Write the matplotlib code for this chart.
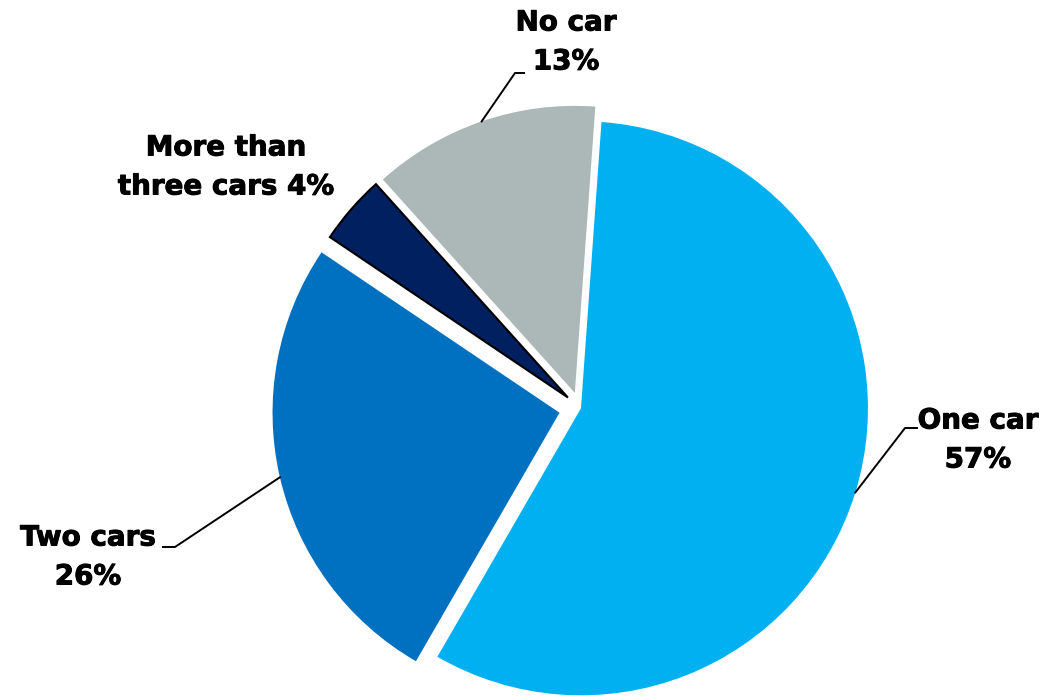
import numpy as np
import matplotlib.pyplot as plt
import matplotlib.patheffects as pe

# car ownership shares (%), clockwise from the top
labels = ['One car', 'Two cars', 'More than\nthree cars', 'No car']
shares = [57.2, 26.1, 3.9, 12.8]
colors = ['#00B0F0', '#0070C0', '#002060', '#ABB8B7']

W, H = 1047, 698
fig = plt.figure(figsize=(W / 100, H / 100), dpi=100)
ax = fig.add_axes([0, 0, 1, 1])

cx, cy, r = 580, H - 408, 287
offsets = [1, 21, 16, 16]  # explode distances in data (pixel) units
start = 85.9

wedges, _ = ax.pie(shares, colors=colors, startangle=start, counterclock=False,
                   center=(cx, cy), radius=r, explode=offsets,
                   wedgeprops=dict(linewidth=0), frame=True)
ax.set_xlim(0, W)
ax.set_ylim(0, H)
ax.set_aspect('equal')
ax.axis('off')
wedges[2].set_edgecolor('black')
wedges[2].set_linewidth(1.5)

# label text positions (pixel coords from top-left) and leader elbows
txt_pos = [(978, 440), (88, 557), (226, 167), (566, 42)]
elbow = [(905, 428), (175, 547), None, (515, 73)]
tail = [(917, 428), (163, 547), None, (524, 73)]

fracs = np.array(shares) / sum(shares)
ang0 = start
for i, lab in enumerate(labels):
    mid = np.deg2rad(ang0 - fracs[i] * 180)
    ang0 -= fracs[i] * 360
    pct = f'{round(shares[i])}%'
    text = f'{lab}\n{pct}' if i != 2 else f'{lab} {pct}'
    ax.text(txt_pos[i][0], H - txt_pos[i][1], text, ha='center', va='center',
            fontsize=20, fontweight='bold', family='DejaVu Sans', linespacing=1.5,
            path_effects=[pe.withStroke(linewidth=0.7, foreground='black')])
    if elbow[i] is None:
        continue
    ex = cx + (r + offsets[i]) * np.cos(mid)
    ey = cy + (r + offsets[i]) * np.sin(mid)
    ax.plot([ex, elbow[i][0], tail[i][0]], [ey, H - elbow[i][1], H - tail[i][1]],
            color='black', lw=1.4)

fig.savefig('out.png', dpi=100, facecolor='white')
